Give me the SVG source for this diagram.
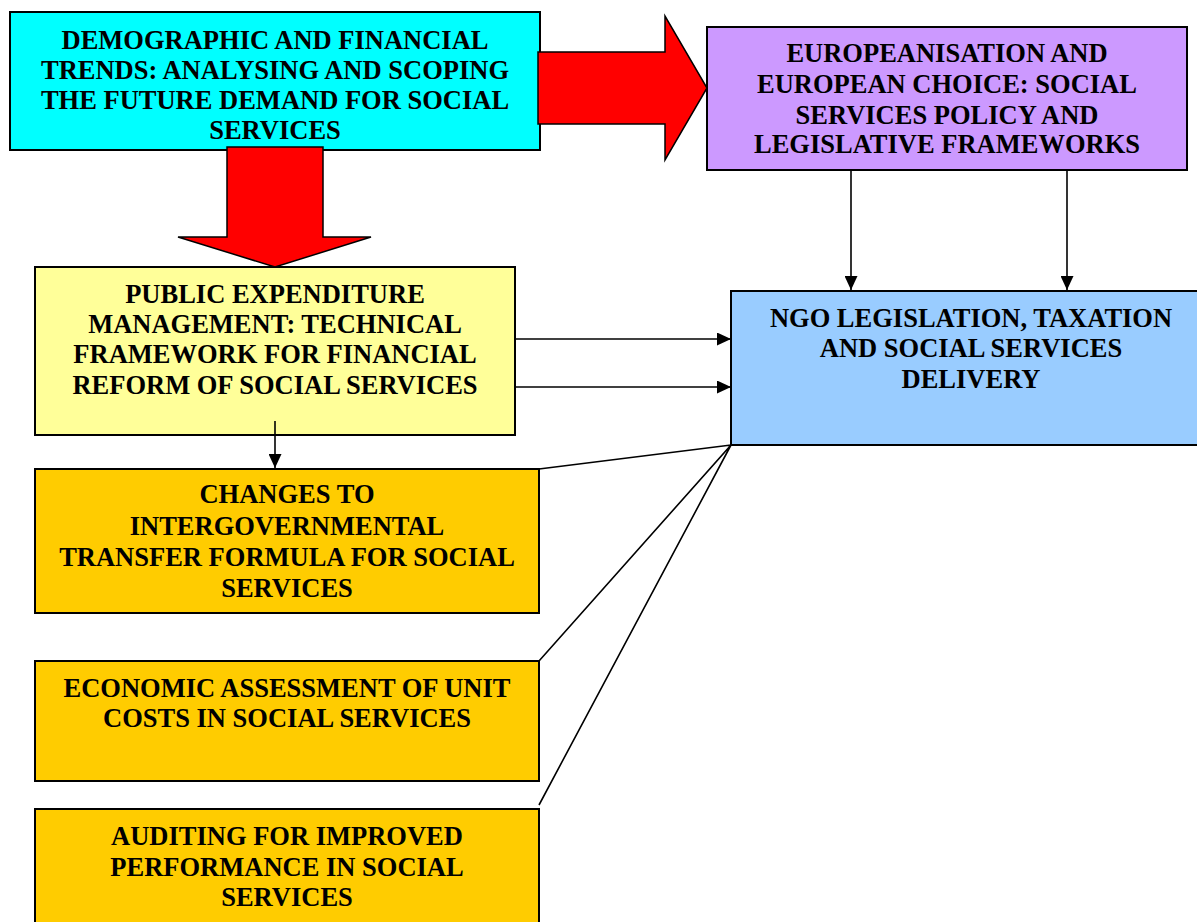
<svg xmlns="http://www.w3.org/2000/svg" width="1197" height="922" viewBox="0 0 1197 922">
<defs>
<style>
.box{stroke:#000;stroke-width:2}
.t{font-family:"Liberation Serif","Times New Roman",serif;font-weight:bold;font-size:26.5px;fill:#000;text-anchor:middle}
.big{fill:#ff0000;stroke:#000;stroke-width:1.5;stroke-linejoin:miter}
.c{stroke:#000;stroke-width:1.6;fill:none}
</style>
<marker id="ah" viewBox="0 0 14 13" refX="14" refY="6.5" markerWidth="14" markerHeight="13" markerUnits="userSpaceOnUse" orient="auto">
<path d="M0,0 L14,6.5 L0,13 Z" fill="#000"/>
</marker>
</defs>
<rect width="1197" height="922" fill="#fff"/>

<g id="n-demographic">
<rect class="box" x="10" y="12" width="530" height="138" fill="#00ffff"/>
<text class="t" x="275" y="49">DEMOGRAPHIC AND FINANCIAL</text>
<text class="t" x="275" y="79">TRENDS: ANALYSING AND SCOPING</text>
<text class="t" x="275" y="109">THE FUTURE DEMAND FOR SOCIAL</text>
<text class="t" x="275" y="139">SERVICES</text>
</g>

<g id="n-europeanisation">
<rect class="box" x="707" y="27" width="480" height="143" fill="#cc99ff"/>
<text class="t" x="947" y="62">EUROPEANISATION AND</text>
<text class="t" x="947" y="93">EUROPEAN CHOICE: SOCIAL</text>
<text class="t" x="947" y="124">SERVICES POLICY AND</text>
<text class="t" x="947" y="153">LEGISLATIVE FRAMEWORKS</text>
</g>

<g id="n-pem">
<rect class="box" x="35" y="267" width="480" height="168" fill="#ffff99"/>
<text class="t" x="275" y="303">PUBLIC EXPENDITURE</text>
<text class="t" x="275" y="333">MANAGEMENT: TECHNICAL</text>
<text class="t" x="275" y="363">FRAMEWORK FOR FINANCIAL</text>
<text class="t" x="275" y="394">REFORM OF SOCIAL SERVICES</text>
</g>

<g id="n-ngo">
<rect class="box" x="731" y="291" width="480" height="154" fill="#99ccff"/>
<text class="t" x="971" y="327">NGO LEGISLATION, TAXATION</text>
<text class="t" x="971" y="357">AND SOCIAL SERVICES</text>
<text class="t" x="971" y="388">DELIVERY</text>
</g>

<g id="n-transfer">
<rect class="box" x="35" y="469" width="504" height="144" fill="#ffcc00"/>
<text class="t" x="287" y="503">CHANGES TO</text>
<text class="t" x="287" y="535">INTERGOVERNMENTAL</text>
<text class="t" x="287" y="566">TRANSFER FORMULA FOR SOCIAL</text>
<text class="t" x="287" y="597">SERVICES</text>
</g>

<g id="n-unitcosts">
<rect class="box" x="35" y="661" width="504" height="120" fill="#ffcc00"/>
<text class="t" x="287" y="697">ECONOMIC ASSESSMENT OF UNIT</text>
<text class="t" x="287" y="727">COSTS IN SOCIAL SERVICES</text>
</g>

<g id="n-auditing">
<rect class="box" x="35" y="809" width="504" height="130" fill="#ffcc00"/>
<text class="t" x="287" y="845">AUDITING FOR IMPROVED</text>
<text class="t" x="287" y="876">PERFORMANCE IN SOCIAL</text>
<text class="t" x="287" y="906">SERVICES</text>
</g>

<g id="connectors">
<path class="big" d="M538,52 L665,52 L665,16 L707,88 L665,160 L665,124 L538,124 Z"/>
<path class="big" d="M227,147 L323,147 L323,237 L371,237 L275,267 L178,237 L227,237 Z"/>
<line class="c" x1="851" y1="171" x2="851" y2="290" marker-end="url(#ah)"/>
<line class="c" x1="1067" y1="171" x2="1067" y2="290" marker-end="url(#ah)"/>
<line class="c" x1="515" y1="339" x2="731" y2="339" marker-end="url(#ah)"/>
<line class="c" x1="515" y1="387" x2="731" y2="387" marker-end="url(#ah)"/>
<path class="c" d="M539,469 L731,445 L539,661 M731,445 L539,805"/>
<line class="c" x1="275" y1="421" x2="275" y2="468" marker-end="url(#ah)"/>
</g>
</svg>
